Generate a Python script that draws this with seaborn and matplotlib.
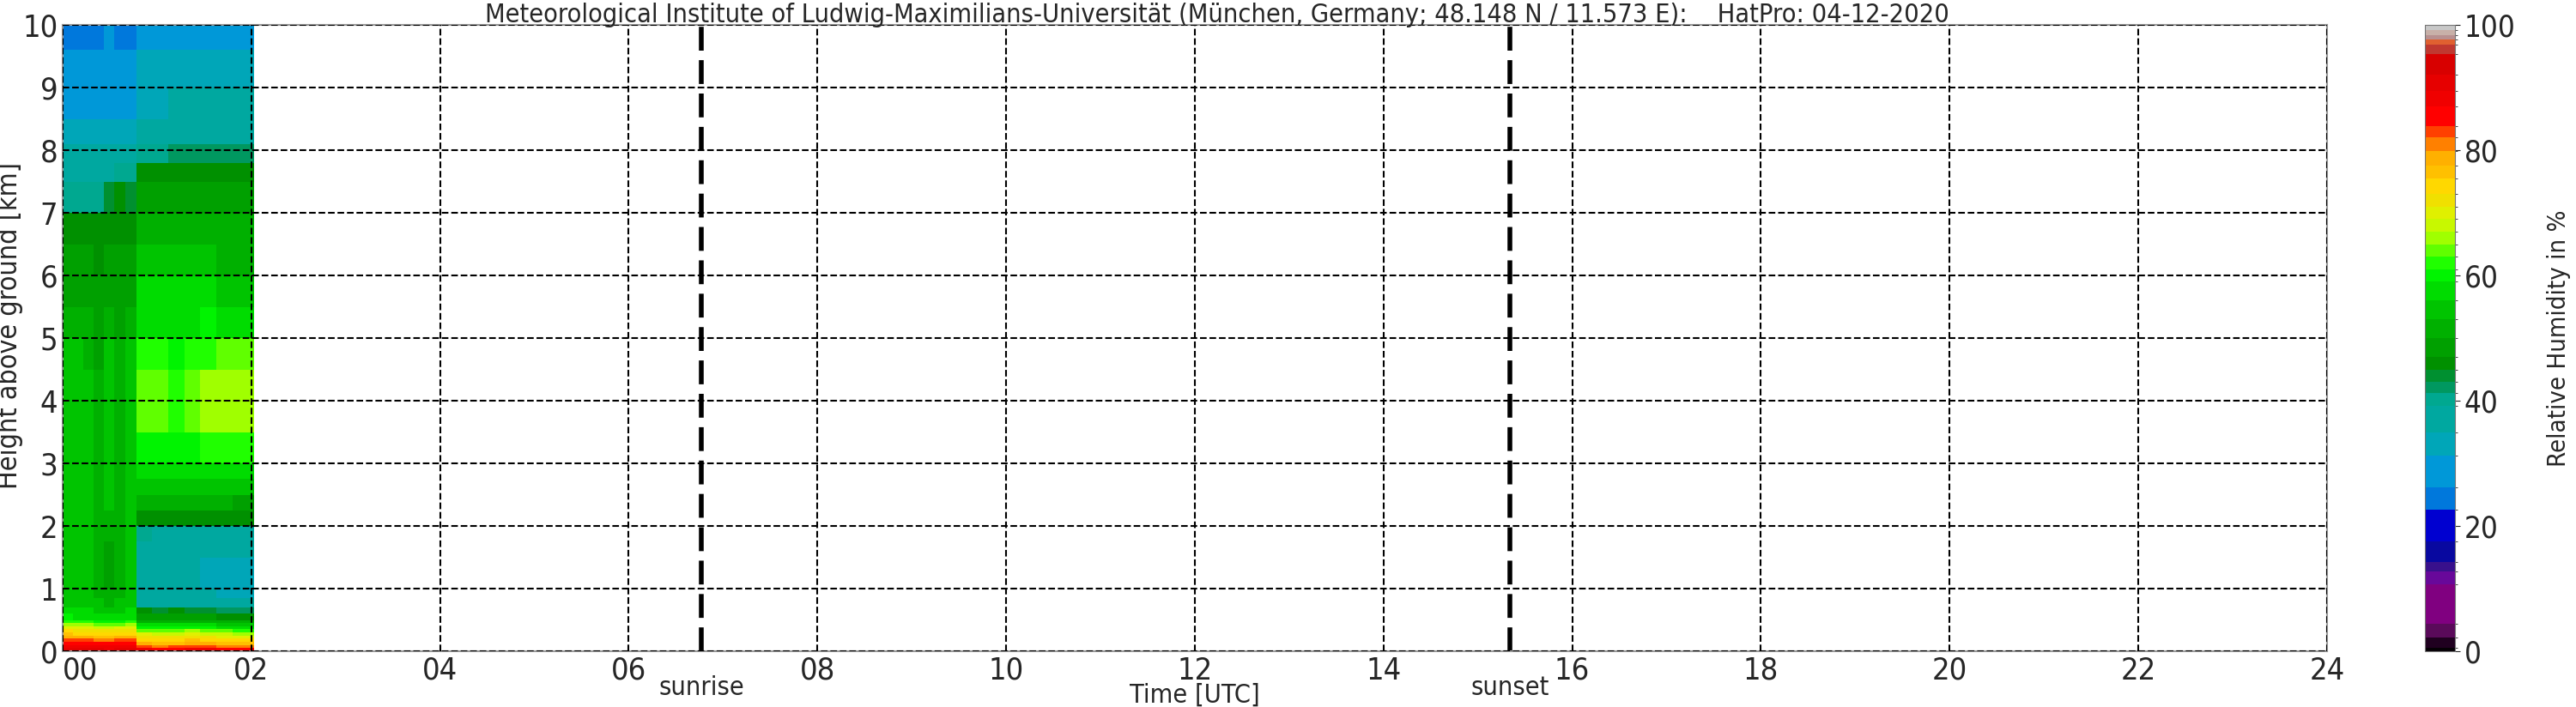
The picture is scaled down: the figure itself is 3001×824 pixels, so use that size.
import numpy as np
import matplotlib
matplotlib.use("Agg")
import matplotlib.pyplot as plt
import seaborn as sns
from matplotlib.colors import ListedColormap, BoundaryNorm

# time (h UTC) and height (km) cell edges of the HatPro scan
time_edges = [0, 0.11, 0.22, 0.33, 0.44, 0.55, 0.66, 0.78, 0.95, 1.12, 1.29, 1.46, 1.63, 1.80, 2.03]
height_edges = [0, 0.05, 0.1, 0.15, 0.2, 0.25, 0.3, 0.35, 0.4, 0.45, 0.5, 0.6, 0.7, 0.85, 1.0,
                1.25, 1.5, 1.75, 2.0, 2.25, 2.5, 2.75, 3.0, 3.5, 4.0, 4.5, 5.0, 5.5, 6.0, 6.5,
                7.0, 7.5, 7.8, 8.1, 8.5, 9.0, 9.6, 10.0]

# relative humidity (%) per height cell, bottom to top, one value per time cell
rh_rows = [
    [91, 90, 90, 90, 89, 90, 90, 87, 86, 86, 88, 87, 86, 86],
    [89, 88, 88, 87, 87, 88, 88, 82, 81, 82, 83, 82, 81, 81],
    [86, 85, 85, 84, 84, 85, 85, 78, 77, 77, 79, 78, 77, 76],
    [83, 82, 82, 81, 81, 82, 82, 75, 74, 74, 76, 75, 74, 73],
    [79, 78, 78, 77, 77, 78, 78, 72, 71, 71, 72, 71, 70, 70],
    [76, 75, 75, 74, 74, 75, 75, 69, 68, 68, 69, 68, 67, 66],
    [73, 72, 72, 71, 71, 72, 72, 64, 64, 64, 65, 64, 63, 62],
    [70, 69, 69, 68, 68, 69, 69, 60, 60, 60, 60, 60, 58, 58],
    [66, 65, 65, 64, 64, 64, 65, 56, 56, 56, 56, 56, 55, 54],
    [62, 61, 61, 60, 60, 60, 61, 52, 52, 52, 52, 52, 50, 50],
    [59, 58, 58, 57, 57, 57, 58, 47, 47, 47, 47, 47, 46, 46],
    [57, 57, 56, 55, 55, 55, 56, 45, 44, 45, 44, 43, 42, 42],
    [55, 55, 54, 53, 52, 53, 54, 38, 38, 38, 38, 37, 37, 37],
    [54, 54, 53, 52, 50, 52, 53, 36, 36, 36, 36, 35, 34, 34],
    [54, 54, 53, 51, 49, 51, 53, 35, 35, 35, 35, 34, 34, 34],
    [54, 54, 53, 51, 47, 51, 53, 35, 35, 35, 35, 34, 34, 34],
    [54, 54, 53, 51, 48, 51, 53, 36, 36, 36, 35, 35, 35, 35],
    [54, 54, 53, 51, 50, 51, 53, 40, 39, 39, 39, 38, 37, 37],
    [54, 54, 53, 51, 52, 51, 54, 46, 45, 46, 46, 46, 46, 46],
    [55, 55, 54, 51, 54, 52, 55, 50, 50, 50, 50, 50, 50, 49],
    [55, 55, 54, 51, 54, 52, 55, 54, 54, 54, 54, 54, 54, 53],
    [55, 55, 54, 51, 54, 52, 55, 57, 57, 57, 57, 58, 58, 57],
    [55, 55, 54, 51, 54, 52, 55, 60, 60, 59, 60, 61, 62, 61],
    [55, 55, 54, 51, 55, 52, 55, 63, 63, 62, 63, 65, 66, 65],
    [54, 54, 53, 50, 54, 52, 54, 63, 63, 62, 63, 65, 66, 66],
    [53, 53, 52, 49, 53, 51, 53, 61, 61, 60, 61, 62, 63, 63],
    [51, 51, 50, 48, 51, 49, 51, 58, 58, 58, 58, 59, 58, 58],
    [49, 49, 48, 47, 49, 48, 49, 56, 56, 56, 56, 56, 55, 55],
    [47, 47, 47, 46, 48, 47, 48, 53, 53, 53, 53, 53, 52, 52],
    [45, 45, 45, 45, 46, 46, 46, 50, 50, 51, 51, 51, 51, 50],
    [40, 40, 40, 40, 44, 45, 44, 47, 47, 48, 48, 48, 48, 47],
    [37, 37, 37, 37, 38, 41, 40, 45, 45, 46, 46, 46, 46, 46],
    [35, 35, 35, 35, 36, 36, 35, 41, 41, 42, 42, 42, 42, 42],
    [32, 32, 32, 32, 33, 32, 32, 36, 36, 37, 37, 37, 37, 37],
    [29, 29, 30, 30, 31, 30, 30, 34, 34, 35, 35, 35, 35, 35],
    [27, 27, 27, 27, 28, 27, 27, 32, 32, 32, 32, 32, 32, 32],
    [24, 24, 25, 25, 27, 26, 26, 28, 28, 29, 29, 29, 29, 29],
]

sunrise = 6.77
sunset = 15.34
x_ticks = list(range(0, 25, 2))
x_tick_labels = [f"{h:02d}" for h in x_ticks]

# banded colour scale for relative humidity
rh_bounds = [0, 0.6, 2.2, 4.4, 10.7, 12.7, 14.3, 17.5, 22.6, 26.2, 31.2, 35, 39.2, 41.3, 43,
             45, 47, 50, 53, 56, 59, 61, 63, 65, 67, 69, 71, 73, 75.5, 77.5, 79.8, 82, 83.8,
             87, 89.5, 92, 95.4, 96.9, 97.7, 98.4, 99.2, 100]
rh_colors = ["#050005", "#200020", "#5a0a5a", "#800080", "#68089a", "#38108c", "#0808a0",
             "#0000d0", "#0078dc", "#0098d8", "#00a6b8", "#00a8a0", "#00a890", "#009860",
             "#009030", "#009000", "#00a000", "#00b000", "#00c400", "#00dc00", "#00f400",
             "#20ff00", "#60ff00", "#a0ff00", "#c8f800", "#e0f000", "#f0e000", "#ffd800",
             "#ffc000", "#ffb000", "#ff8000", "#ff4000", "#ff0000", "#f00000", "#e60000",
             "#d80000", "#c03830", "#e06030", "#b89090", "#c8b0a8", "#c8c8c8"]

cmap = ListedColormap(rh_colors)
norm = BoundaryNorm(rh_bounds, cmap.N)

sns.set_style("white")
plt.rcParams["font.family"] = ["DejaVu Sans"]
plt.rcParams["font.stretch"] = "condensed"

fig = plt.figure(figsize=(30.01, 8.24), dpi=100)
ax = fig.add_axes([0.02433, 0.07888, 0.8790, 0.88592])

rh = np.array(rh_rows)
mesh = ax.pcolormesh(time_edges, height_edges, rh, cmap=cmap, norm=norm, shading="flat")

ax.set_xlim(0, 24)
ax.set_ylim(0, 10)
ax.set_xticks(x_ticks)
ax.set_xticklabels(x_tick_labels)
ax.get_xticklabels()[0].set_horizontalalignment("left")
ax.set_yticks(range(0, 11))
ax.tick_params(axis="both", labelsize=26, length=0, pad=4)
ax.grid(True, color="black", linestyle="--", linewidth=1.5)
ax.set_axisbelow(False)
for sp in ax.spines.values():
    sp.set_color("#999999")
    sp.set_linewidth(1.5)

for t, name in [(sunrise, "sunrise"), (sunset, "sunset")]:
    ax.axvline(t, color="black", linestyle=(0, (5, 2)), linewidth=4)
    ax.text(t, -0.38, name, ha="center", va="top", fontsize=22)

ax.set_xlabel("Time [UTC]", fontsize=22, labelpad=-2)
ax.set_ylabel("Height above ground [km]", fontsize=23)
ax.yaxis.set_label_coords(-0.0175, 0.52)
ax.set_title("Meteorological Institute of Ludwig-Maximilians-Universität (München, Germany; "
             "48.148 N / 11.573 E):    HatPro: 04-12-2020", fontsize=22, pad=2, x=0.51)

cax = fig.add_axes([0.9413, 0.07888, 0.0118, 0.88592])
cb = fig.colorbar(mesh, cax=cax, spacing="proportional", ticks=[0, 20, 40, 60, 80, 100])
cb.ax.tick_params(labelsize=25, length=4)
cb.outline.set_edgecolor("#777777")
cb.set_label("Relative Humidity in %", fontsize=21, labelpad=26)

fig.savefig("out.png", dpi=100)
